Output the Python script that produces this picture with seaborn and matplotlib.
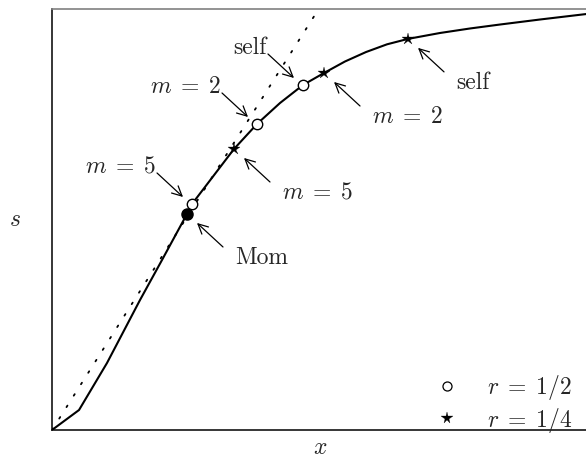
import matplotlib
matplotlib.use("Agg")
import matplotlib.pyplot as plt
from matplotlib.lines import Line2D
import pandas as pd
import seaborn as sns

# Trade-off curve s(x)
curve_x = [0.0, 0.0506, 0.103, 0.1648, 0.206, 0.2528, 0.2622, 0.3408, 0.3839,
           0.4270, 0.4700, 0.5094, 0.5487, 0.5880, 0.6273, 0.6667, 0.7266,
           0.7828, 0.8390, 0.9139, 1.0]
curve_s = [0.0, 0.0474, 0.159, 0.3084, 0.4033, 0.5125, 0.5362, 0.6667, 0.7260,
           0.7758, 0.8185, 0.8470, 0.8743, 0.8967, 0.9150, 0.9279, 0.9419,
           0.9526, 0.9620, 0.9739, 0.9868]

# Reference line through the origin
ref_x = [0.0, 0.5]
ref_s = [0.0, 1.0]

# Estimators with r = 1/2 (m = 5, m = 2, self)
half_x = [0.2622, 0.3839, 0.4700]
half_s = [0.5362, 0.7260, 0.8185]
half_labels = [r"$m\;=\;5$", r"$m\;=\;2$", "self"]

# Estimators with r = 1/4 (m = 5, m = 2, self)
quarter_x = [0.3408, 0.5094, 0.6667]
quarter_s = [0.6667, 0.8470, 0.9279]
quarter_labels = [r"$m\;=\;5$", r"$m\;=\;2$", "self"]

# Method of moments
mom_x = [0.2528]
mom_s = [0.5125]

legend_labels = [r"$r\;=\;1/2$", r"$r\;=\;1/4$"]

sns.set_style("white")
plt.rcParams["font.family"] = ["cmr10"]
plt.rcParams["mathtext.fontset"] = "cm"
plt.rcParams["axes.formatter.use_mathtext"] = True

W, H = 586, 474
fig = plt.figure(figsize=(W / 100, H / 100), dpi=100)
left, bottom, top, right = 52, 430, 8.5, 600
ax = fig.add_axes([left / W, (H - bottom) / H, (right - left) / W, (bottom - top) / H])
ax.set_xlim(0, (right - left) / 534)
ax.set_ylim(0, 1)

curve = pd.DataFrame({"x": curve_x, "s": curve_s})
ref = pd.DataFrame({"x": ref_x, "s": ref_s})

sns.lineplot(data=ref, x="x", y="s", ax=ax, color="black", lw=1.3,
             linestyle=(0, (1, 6.5)), sort=False, estimator=None,
             dash_capstyle="round")
sns.lineplot(data=curve, x="x", y="s", ax=ax, color="black", lw=1.5,
             sort=False, estimator=None)

ax.plot(mom_x, mom_s, "o", color="black", ms=8, zorder=5)
ax.plot(half_x, half_s, "o", mfc="white", mec="black", mew=1.0, ms=7.5, zorder=5)
ax.plot(quarter_x, quarter_s, "*", color="black", ms=9, mew=0.2, zorder=5)

FS = 17
arrow_kw = dict(arrowstyle="->,head_length=0.5,head_width=0.25", color="black",
                lw=0.9, shrinkA=0, shrinkB=0, mutation_scale=14)


def arrow_label(px, py, text, side):
    # offsets in pixels relative to the marked point
    if side == "upper_left":
        tail, head, txt, ha = (-35, 31), (-9, 7), (-36, 31), "right"
    else:
        tail, head, txt, ha = (36, -33), (10, -9), (48, -50), "left"
    base = ax.transData.transform((px, py))
    inv = ax.transData.inverted()
    head_d = inv.transform((base[0] + head[0], base[1] + head[1]))
    tail_d = inv.transform((base[0] + tail[0], base[1] + tail[1]))
    ax.annotate("", xy=head_d, xytext=tail_d, arrowprops=arrow_kw)
    ax.annotate(text, xy=(px, py), xytext=txt, textcoords="offset pixels",
                ha=ha, va="baseline", fontsize=FS)


for px, py, t in zip(half_x, half_s, half_labels):
    arrow_label(px, py, t, "upper_left")
for px, py, t in zip(quarter_x, quarter_s, quarter_labels):
    arrow_label(px, py, t, "lower_right")
arrow_label(mom_x[0], mom_s[0], "Mom", "lower_right")

handles = [
    Line2D([], [], ls="none", marker="o", mfc="white", mec="black", mew=0.9, ms=6.5),
    Line2D([], [], ls="none", marker="*", color="black", ms=8.5, mew=0.2),
]
ax.legend(handles, legend_labels, loc="lower right", frameon=False,
          fontsize=FS, handlelength=1.0, handletextpad=1.2,
          labelspacing=0.15, borderaxespad=0.0,
          bbox_to_anchor=((582 - left) / (right - left), -14 / (bottom - top)))

ax.set_xticks([])
ax.set_yticks([])
ax.set_xlabel("$x$", fontsize=FS)
ax.set_ylabel("$s$", fontsize=FS, rotation=0)
ax.xaxis.set_label_coords((320 - left) / (right - left), (bottom - 448) / (bottom - top))
ax.yaxis.set_label_coords((15 - left) / (right - left), (bottom - 220) / (bottom - top))
ax.xaxis.label.set_va("center")
ax.yaxis.label.set_va("center")

for side in ["left", "bottom"]:
    ax.spines[side].set_color("black")
    ax.spines[side].set_linewidth(1.1)
ax.spines["top"].set_color("#808080")
ax.spines["top"].set_linewidth(1.2)
ax.spines["right"].set_visible(False)

fig.savefig("out.png", dpi=100)
